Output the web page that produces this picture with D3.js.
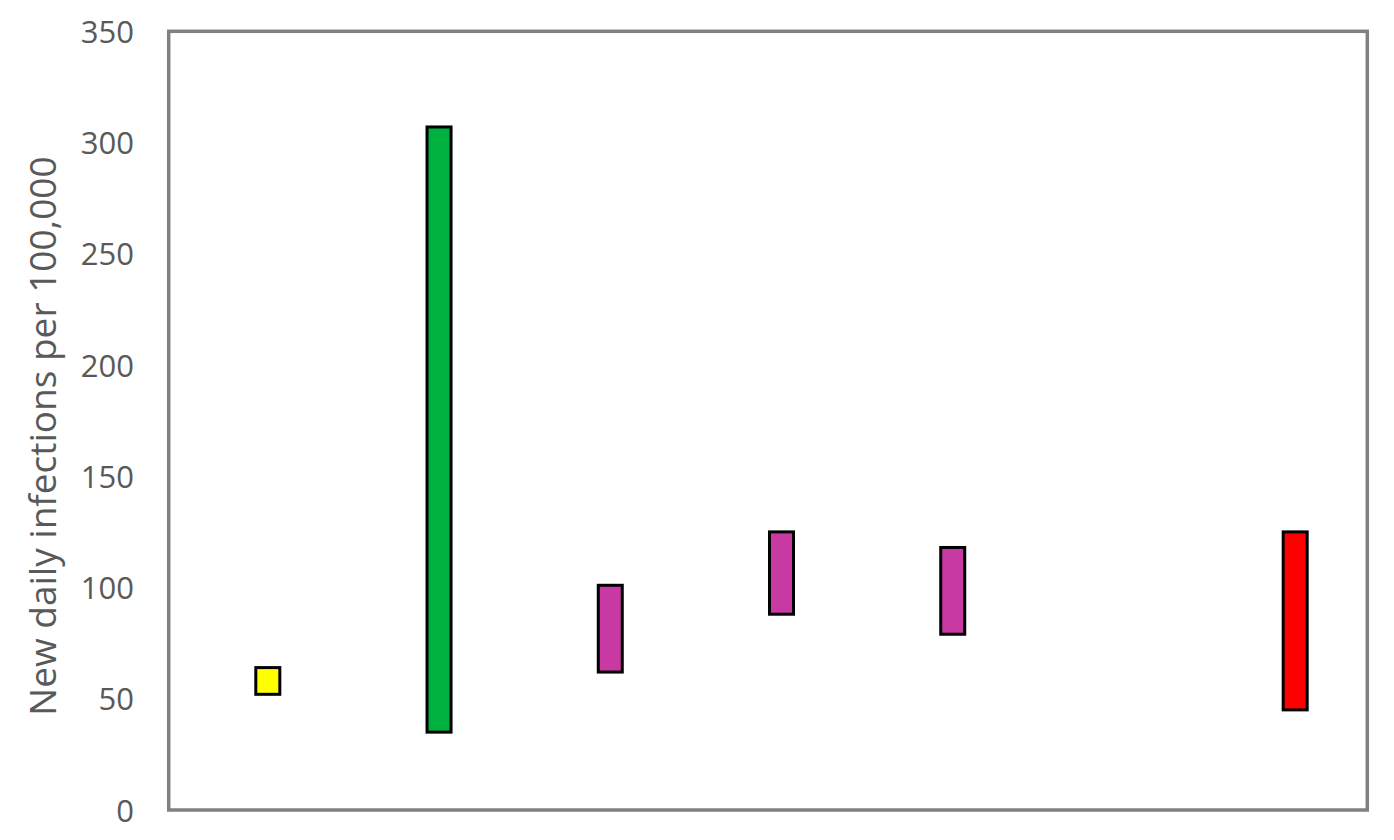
<!DOCTYPE html>
<html lang="en">
    <head>
        <meta charset="utf-8">
        <title>New daily infections</title>
        <script type="text/javascript" src="https://cdn.jsdelivr.net/npm/d3@7/dist/d3.min.js"></script>
        <style>
        body { margin: 0; background: #fff; }
        .axis text {
            font-family: "Open Sans", "Noto Sans", sans-serif;
            font-size: 31px;
            fill: #595959;
        }
        .title {
            font-family: "Open Sans", "Noto Sans", sans-serif;
            font-size: 37px;
            fill: #595959;
        }
        </style>
    </head>
    <body>
        <script type="text/javascript">
        // seven category slots, the sixth one is empty
        var categories = ["c1", "c2", "c3", "c4", "c5", "c6", "c7"];
        var barCats  = ["c1", "c2", "c3", "c4", "c5", "c7"];
        var lowVals  = [52, 35, 62, 88, 79, 45];
        var highVals = [64, 307, 101, 125, 118, 125];
        var colors   = ["#ffff00", "#00b140", "#c839a3", "#c839a3", "#c839a3", "#ff0000"];
        var yTicks   = [0, 50, 100, 150, 200, 250, 300, 350];

        var dataset = barCats.map(function (c, i) {
            return { cat: c, low: lowVals[i], high: highVals[i], color: colors[i] };
        });

        var w = 1394;
        var h = 840;
        // note: "top" is a reserved window property, so use plot* names
        var plotLeft = 168.7, plotRight = 1367.3, plotTop = 31.3, plotBottom = 810;
        var barW = 24;

        var xScale = d3.scaleBand()
                     .domain(categories)
                     .range([plotLeft, plotRight]);

        var yScale = d3.scaleLinear()
                     .domain([0, 350])
                     .range([plotBottom, plotTop]);

        var svg = d3.select("body")
                    .append("svg")
                    .attr("width", w)
                    .attr("height", h);

        // y axis labels only, no line or ticks
        var yAxis = d3.axisLeft(yScale)
                    .tickValues(yTicks)
                    .tickSize(0)
                    .tickPadding(0);
        var ya = svg.append("g")
          .attr("class", "axis")
          .attr("transform", "translate(134,0)")
          .call(yAxis);
        ya.select(".domain").remove();
        ya.selectAll("text").attr("dy", "0.36em");

        // bars: second slot of a two-series cluster
        svg.selectAll("rect.bar")
            .data(dataset)
            .enter()
            .append("rect")
            .attr("class", "bar")
            .attr("x", function (d) { return xScale(d.cat) + xScale.bandwidth() / 2 + 1.5; })
            .attr("width", barW)
            .attr("y", function (d) { return yScale(d.high); })
            .attr("height", function (d) { return yScale(d.low) - yScale(d.high); })
            .attr("fill", function (d) { return d.color; })
            .attr("stroke", "#000")
            .attr("stroke-width", 3);

        // plot frame
        svg.append("rect")
          .attr("x", plotLeft)
          .attr("y", plotTop)
          .attr("width", plotRight - plotLeft)
          .attr("height", plotBottom - plotTop)
          .attr("fill", "none")
          .attr("stroke", "#808080")
          .attr("stroke-width", 3.5);

        svg.append("text")
          .attr("class", "title")
          .attr("text-anchor", "middle")
          .attr("transform", "translate(56,436) rotate(-90)")
          .text("New daily infections per 100,000");
        </script>
    </body>
</html>
